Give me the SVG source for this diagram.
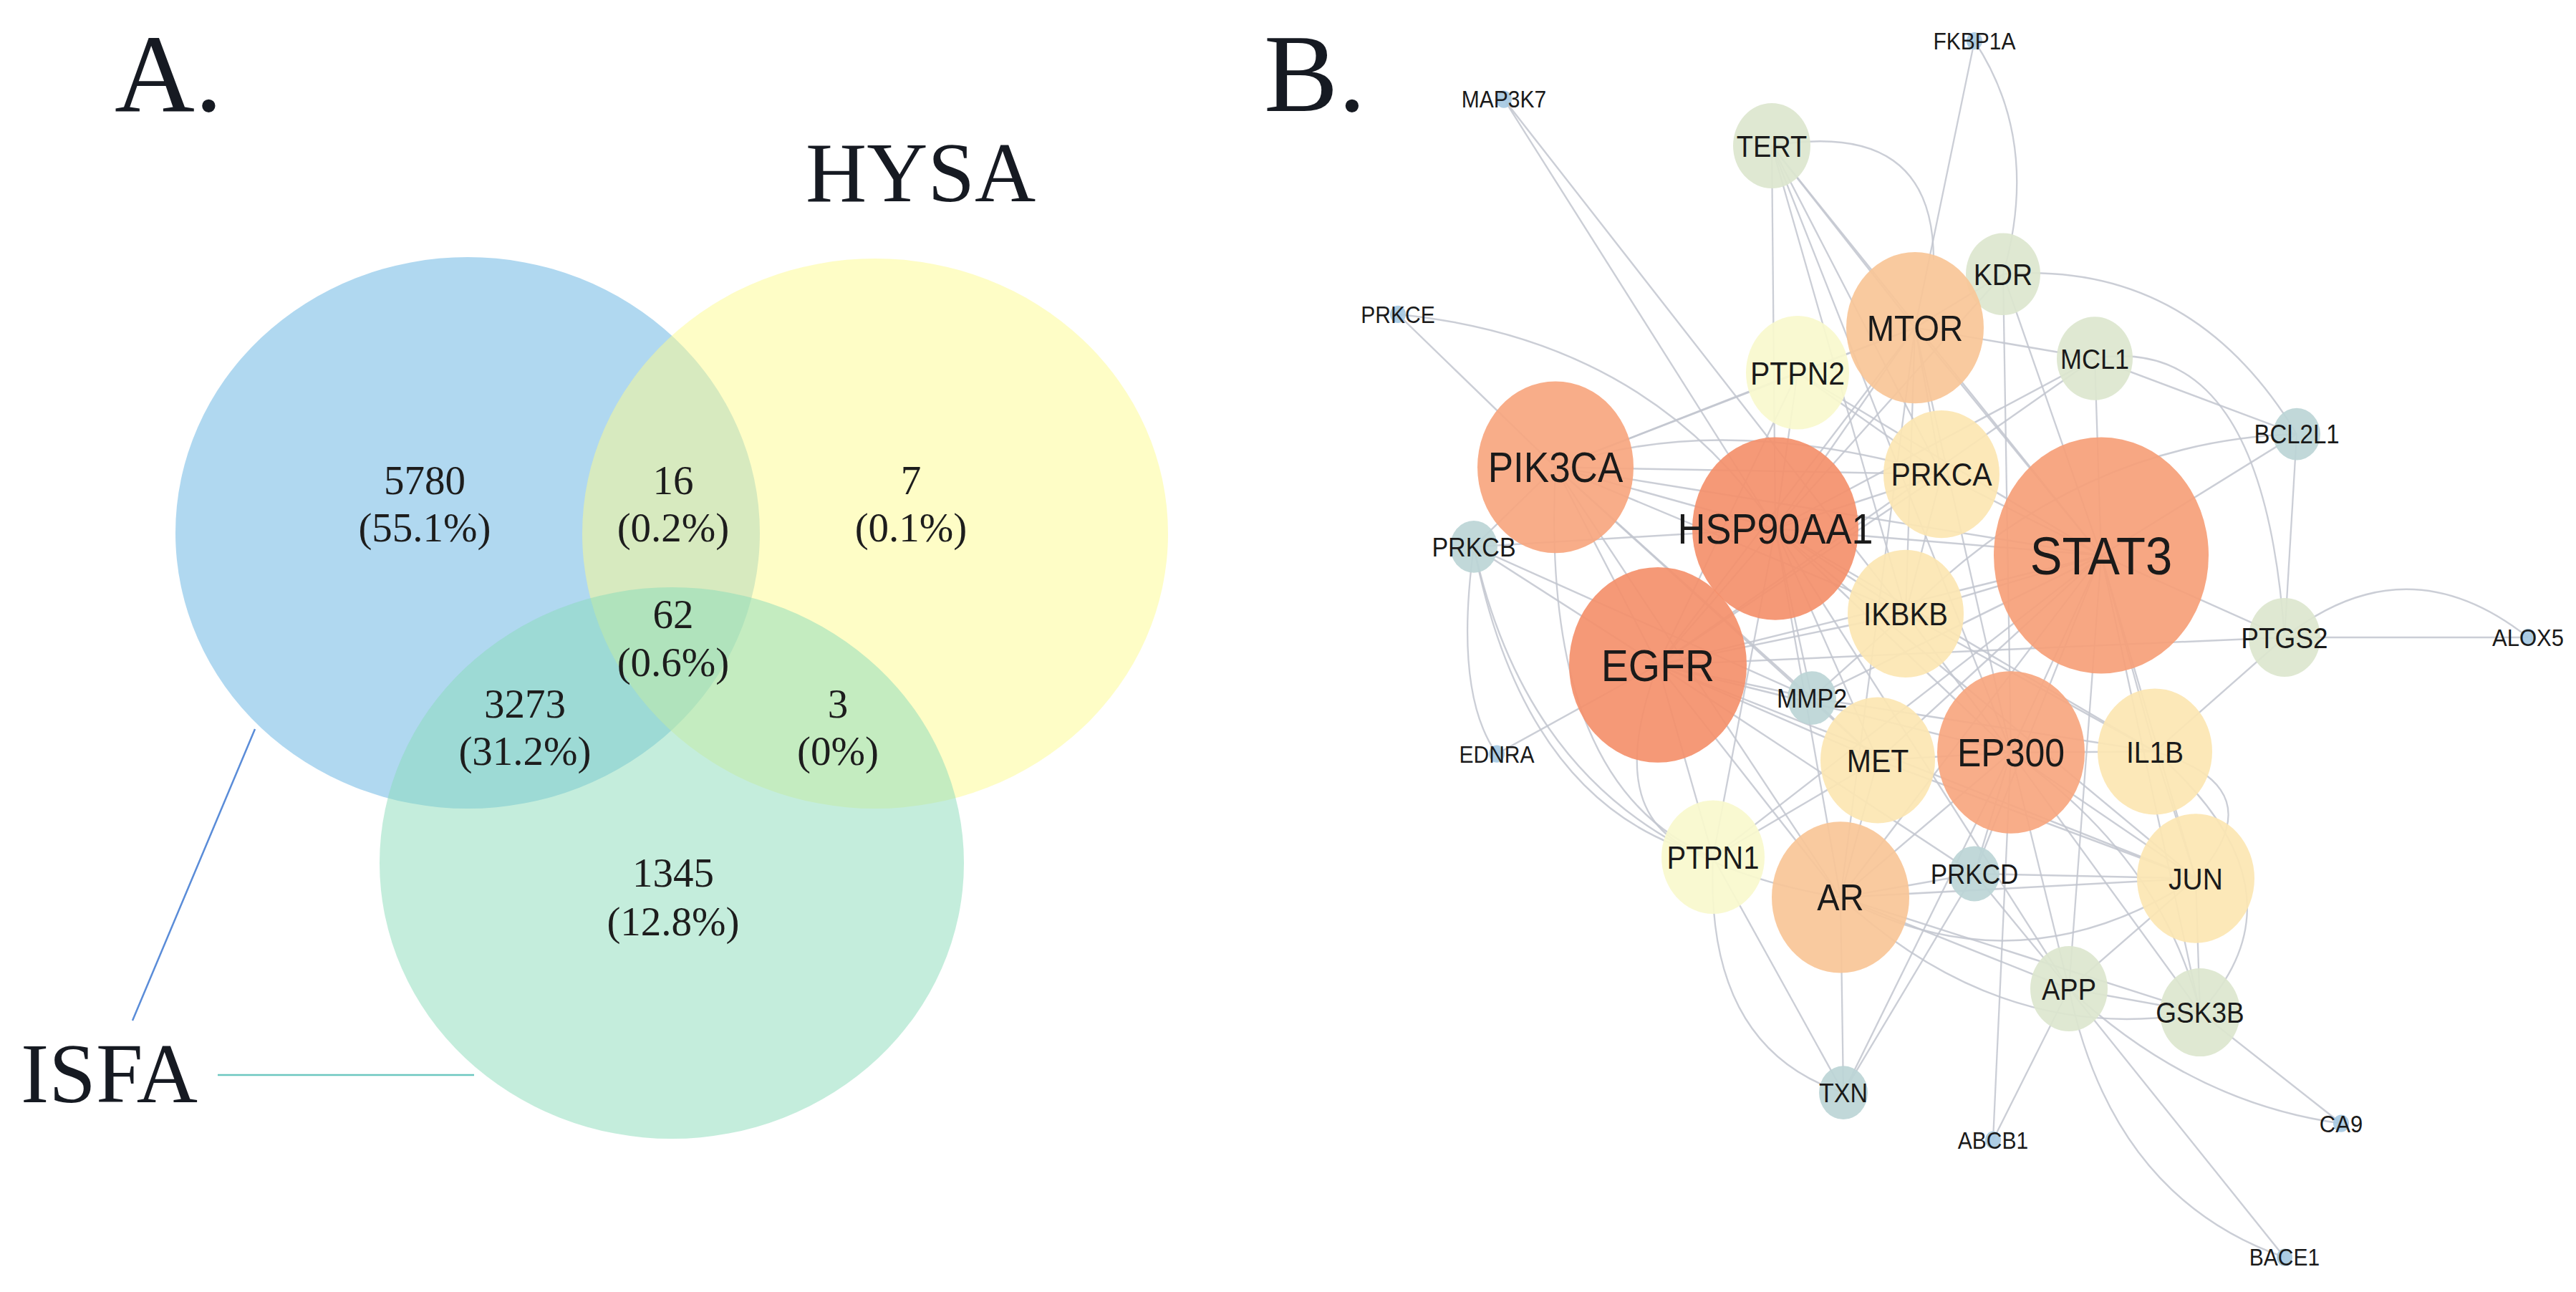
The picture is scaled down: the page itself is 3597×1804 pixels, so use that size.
<svg xmlns="http://www.w3.org/2000/svg" width="3597" height="1804" viewBox="0 0 3597 1804">
<style>
.vs{font-family:"Liberation Serif","Times New Roman",serif;fill:#161a22}
.vn{font-family:"Liberation Serif","Times New Roman",serif;font-size:57px;text-anchor:middle;fill:#1d1d1d}
.e{fill:none;stroke:#c2c6cf;stroke-width:2.3;stroke-opacity:0.85}
.n circle{fill-opacity:0.92}
.n text{font-family:"Liberation Sans",Arial,sans-serif;text-anchor:middle;fill:#1a1a1a}
.c0{fill:#F6A078}.c1{fill:#F4906B}.c2{fill:#F7A67F}.c3{fill:#F9C597}.c4{fill:#FCE6B2}.c5{fill:#F8F8CD}.c6{fill:#DCE6CE}.c7{fill:#BCD5D6}.c8{fill:#A6C9E2}
</style>
<rect width="3597" height="1804" fill="#ffffff"/>
<g id="panelA">
<text class="vs" x="160" y="155" font-size="155">A.</text>
<text class="vs" x="1125" y="281" font-size="118">HYSA</text>
<text class="vs" x="29" y="1539" font-size="118">ISFA</text>
<g id="venn-sets">
<ellipse id="set-blue" cx="653" cy="744" rx="408" ry="385" fill="#61B1E1" fill-opacity="0.5"/>
<ellipse id="set-HYSA" cx="1222" cy="745" rx="409" ry="384" fill="#FDFB8D" fill-opacity="0.5"/>
<ellipse id="set-ISFA" cx="938" cy="1205" rx="408" ry="385" fill="#89DBB9" fill-opacity="0.5"/>
</g>
<g id="venn-leaders">
<line x1="356" y1="1018" x2="185" y2="1425" stroke="#5A8CD8" stroke-width="2.5"/>
<line x1="304" y1="1501" x2="662" y2="1501" stroke="#6CC7C0" stroke-width="2.5"/>
</g>
<g id="venn-counts">
<text class="vn" x="593" y="690">5780</text><text class="vn" x="593" y="756">(55.1%)</text>
<text class="vn" x="940" y="690">16</text><text class="vn" x="940" y="756">(0.2%)</text>
<text class="vn" x="1272" y="690">7</text><text class="vn" x="1272" y="756">(0.1%)</text>
<text class="vn" x="940" y="877">62</text><text class="vn" x="940" y="944">(0.6%)</text>
<text class="vn" x="733" y="1002">3273</text><text class="vn" x="733" y="1068">(31.2%)</text>
<text class="vn" x="1170" y="1002">3</text><text class="vn" x="1170" y="1068">(0%)</text>
<text class="vn" x="940" y="1238">1345</text><text class="vn" x="940" y="1306">(12.8%)</text>
</g>
</g>
<text class="vs" x="1765" y="155" font-size="155">B.</text>
<g id="network" transform="matrix(1 0 0 1.1 0 0)">
<g id="edges">
<path class="e" d="M2757 52 L2674 416"/>
<path class="e" d="M2100 126 L2479 671"/>
<path class="e" d="M2100 126 L2661 779"/>
<path class="e" d="M1952 399 L2172 593"/>
<path class="e" d="M2474 185 L2479 671"/>
<path class="e" d="M2474 185 L2674 416"/>
<path class="e" d="M2474 185 L2711 602"/>
<path class="e" d="M2474 185 L2934 705"/>
<path class="e" d="M2474 185 L2661 779"/>
<path class="e" d="M2474 185 L2808 955"/>
<path class="e" d="M2797 348 L2674 416"/>
<path class="e" d="M2797 348 L2808 955"/>
<path class="e" d="M2797 348 L2479 671"/>
<path class="e" d="M2797 348 L2934 705"/>
<path class="e" d="M2925 455 L2934 705"/>
<path class="e" d="M2925 455 L2674 416"/>
<path class="e" d="M2925 455 L3207 551"/>
<path class="e" d="M2925 455 L2479 671"/>
<path class="e" d="M2925 455 L2315 844"/>
<path class="e" d="M3207 551 L2934 705"/>
<path class="e" d="M3207 551 L3190 809"/>
<path class="e" d="M3190 809 L3530 809"/>
<path class="e" d="M3190 809 L2934 705"/>
<path class="e" d="M3190 809 L3009 954"/>
<path class="e" d="M3190 809 L2315 844"/>
<path class="e" d="M2058 694 L2172 593"/>
<path class="e" d="M2058 694 L2315 844"/>
<path class="e" d="M2058 694 L2479 671"/>
<path class="e" d="M2058 694 L2530 886"/>
<path class="e" d="M2090 957 L2315 844"/>
<path class="e" d="M2392 1088 L2315 844"/>
<path class="e" d="M2392 1088 L2622 965"/>
<path class="e" d="M2392 1088 L2479 671"/>
<path class="e" d="M2392 1088 L2934 705"/>
<path class="e" d="M2392 1088 L2574 1387"/>
<path class="e" d="M2570 1139 L2574 1387"/>
<path class="e" d="M2574 1387 L2808 955"/>
<path class="e" d="M2783 1447 L2808 955"/>
<path class="e" d="M2783 1447 L2889 1255"/>
<path class="e" d="M3269 1426 L3072 1285"/>
<path class="e" d="M3190 1596 L2889 1255"/>
<path class="e" d="M2889 1255 L3072 1285"/>
<path class="e" d="M2889 1255 L3066 1115"/>
<path class="e" d="M2889 1255 L2808 955"/>
<path class="e" d="M2889 1255 L2570 1139"/>
<path class="e" d="M2889 1255 L2934 705"/>
<path class="e" d="M2889 1255 L2757 1109"/>
<path class="e" d="M2889 1255 L2479 671"/>
<path class="e" d="M3072 1285 L3066 1115"/>
<path class="e" d="M3072 1285 L2808 955"/>
<path class="e" d="M3072 1285 L2570 1139"/>
<path class="e" d="M3072 1285 L2934 705"/>
<path class="e" d="M2934 705 L2479 671"/>
<path class="e" d="M2934 705 L2315 844"/>
<path class="e" d="M2934 705 L2808 955"/>
<path class="e" d="M2934 705 L3066 1115"/>
<path class="e" d="M2934 705 L3009 954"/>
<path class="e" d="M2934 705 L2674 416"/>
<path class="e" d="M2934 705 L2711 602"/>
<path class="e" d="M2934 705 L2661 779"/>
<path class="e" d="M2934 705 L2622 965"/>
<path class="e" d="M2934 705 L2570 1139"/>
<path class="e" d="M2934 705 L2172 593"/>
<path class="e" d="M2934 705 L2510 473"/>
<path class="e" d="M2934 705 L2530 886"/>
<path class="e" d="M2934 705 L2757 1109"/>
<path class="e" d="M2479 671 L2315 844"/>
<path class="e" d="M2479 671 L2172 593"/>
<path class="e" d="M2479 671 L2674 416"/>
<path class="e" d="M2479 671 L2711 602"/>
<path class="e" d="M2479 671 L2661 779"/>
<path class="e" d="M2479 671 L2622 965"/>
<path class="e" d="M2479 671 L2570 1139"/>
<path class="e" d="M2479 671 L2808 955"/>
<path class="e" d="M2479 671 L2510 473"/>
<path class="e" d="M2479 671 L2530 886"/>
<path class="e" d="M2479 671 L3066 1115"/>
<path class="e" d="M2479 671 L3009 954"/>
<path class="e" d="M2315 844 L2172 593"/>
<path class="e" d="M2315 844 L2622 965"/>
<path class="e" d="M2315 844 L2510 473"/>
<path class="e" d="M2315 844 L2711 602"/>
<path class="e" d="M2315 844 L2530 886"/>
<path class="e" d="M2315 844 L2570 1139"/>
<path class="e" d="M2315 844 L2808 955"/>
<path class="e" d="M2315 844 L2661 779"/>
<path class="e" d="M2315 844 L2757 1109"/>
<path class="e" d="M2315 844 L3066 1115"/>
<path class="e" d="M2315 844 L2674 416"/>
<path class="e" d="M2172 593 L2674 416"/>
<path class="e" d="M2172 593 L2510 473"/>
<path class="e" d="M2172 593 L2661 779"/>
<path class="e" d="M2172 593 L2530 886"/>
<path class="e" d="M2172 593 L2622 965"/>
<path class="e" d="M2172 593 L2570 1139"/>
<path class="e" d="M2172 593 L2711 602"/>
<path class="e" d="M2808 955 L3066 1115"/>
<path class="e" d="M2808 955 L2570 1139"/>
<path class="e" d="M2808 955 L3009 954"/>
<path class="e" d="M2808 955 L2622 965"/>
<path class="e" d="M2808 955 L2661 779"/>
<path class="e" d="M2808 955 L2757 1109"/>
<path class="e" d="M2808 955 L2674 416"/>
<path class="e" d="M2674 416 L2711 602"/>
<path class="e" d="M2674 416 L2661 779"/>
<path class="e" d="M2674 416 L2510 473"/>
<path class="e" d="M2674 416 L2570 1139"/>
<path class="e" d="M2570 1139 L2757 1109"/>
<path class="e" d="M2570 1139 L3066 1115"/>
<path class="e" d="M2570 1139 L2622 965"/>
<path class="e" d="M3066 1115 L2757 1109"/>
<path class="e" d="M3066 1115 L3009 954"/>
<path class="e" d="M3066 1115 L2622 965"/>
<path class="e" d="M3009 954 L2661 779"/>
<path class="e" d="M3009 954 L2530 886"/>
<path class="e" d="M2622 965 L2530 886"/>
<path class="e" d="M2711 602 L2661 779"/>
<path class="e" d="M2510 473 L2711 602"/>
<path class="e" d="M2530 886 L2661 779"/>
<path class="e" d="M2574 1387 L2757 1109"/>
<path class="e" d="M2757 52 Q2850 180 2797 348"/>
<path class="e" d="M1952 399 Q2300 430 2479 671"/>
<path class="e" d="M2474 185 Q2700 150 2700 330"/>
<path class="e" d="M2797 348 Q3060 330 3207 551"/>
<path class="e" d="M2925 455 Q3160 420 3190 809"/>
<path class="e" d="M3190 809 Q3360 687 3530 809"/>
<path class="e" d="M2058 694 Q2030 880 2090 957"/>
<path class="e" d="M2058 694 Q2130 1030 2392 1088"/>
<path class="e" d="M2172 593 Q2150 1000 2392 1088"/>
<path class="e" d="M2392 1088 Q2380 1330 2574 1387"/>
<path class="e" d="M2889 1255 Q2950 1520 3190 1596"/>
<path class="e" d="M2889 1255 Q3060 1400 3269 1426"/>
<path class="e" d="M3072 1285 Q3230 1130 3009 954"/>
<path class="e" d="M3009 954 Q3180 1000 3066 1115"/>
<path class="e" d="M2570 1139 Q2820 1260 3066 1115"/>
<path class="e" d="M2570 1139 Q2800 1330 3072 1285"/>
<path class="e" d="M2808 955 Q3020 1090 3072 1285"/>
<path class="e" d="M2058 694 Q2150 1080 2570 1139"/>
<path class="e" d="M2315 844 Q2230 1050 2392 1088"/>
<path class="e" d="M2172 593 Q2400 520 2711 602"/>
<path class="e" d="M2661 779 Q2900 560 3207 551"/>
</g>
<g id="nodes" class="n">
<g id="node-FKBP1A"><circle class="c8" cx="2757" cy="52" r="11"/><text x="2757" y="52" dy="0.36em" font-size="30">FKBP1A</text></g>
<g id="node-MAP3K7"><circle class="c8" cx="2100" cy="126" r="11"/><text x="2100" y="126" dy="0.36em" font-size="30">MAP3K7</text></g>
<g id="node-PRKCE"><circle class="c8" cx="1952" cy="399" r="11"/><text x="1952" y="399" dy="0.36em" font-size="30">PRKCE</text></g>
<g id="node-ALOX5"><circle class="c8" cx="3530" cy="809" r="11"/><text x="3530" y="809" dy="0.36em" font-size="31">ALOX5</text></g>
<g id="node-EDNRA"><circle class="c8" cx="2090" cy="957" r="11"/><text x="2090" y="957" dy="0.36em" font-size="30">EDNRA</text></g>
<g id="node-ABCB1"><circle class="c8" cx="2783" cy="1447" r="11"/><text x="2783" y="1447" dy="0.36em" font-size="30">ABCB1</text></g>
<g id="node-CA9"><circle class="c8" cx="3269" cy="1426" r="11"/><text x="3269" y="1426" dy="0.36em" font-size="31">CA9</text></g>
<g id="node-BACE1"><circle class="c8" cx="3190" cy="1596" r="11"/><text x="3190" y="1596" dy="0.36em" font-size="30">BACE1</text></g>
<g id="node-TERT"><circle class="c6" cx="2474" cy="185" r="54"/><text x="2474" y="185" dy="0.36em" font-size="38">TERT</text></g>
<g id="node-KDR"><circle class="c6" cx="2797" cy="348" r="52"/><text x="2797" y="348" dy="0.36em" font-size="39">KDR</text></g>
<g id="node-MCL1"><circle class="c6" cx="2925" cy="455" r="53"/><text x="2925" y="455" dy="0.36em" font-size="36">MCL1</text></g>
<g id="node-BCL2L1"><circle class="c7" cx="3207" cy="551" r="33"/><text x="3207" y="551" dy="0.36em" font-size="33">BCL2L1</text></g>
<g id="node-PRKCB"><circle class="c7" cx="2058" cy="694" r="33"/><text x="2058" y="694" dy="0.36em" font-size="34">PRKCB</text></g>
<g id="node-PTGS2"><circle class="c6" cx="3190" cy="809" r="50"/><text x="3190" y="809" dy="0.36em" font-size="37">PTGS2</text></g>
<g id="node-PTPN2"><circle class="c5" cx="2510" cy="473" r="72"/><text x="2510" y="473" dy="0.36em" font-size="41">PTPN2</text></g>
<g id="node-MTOR"><circle class="c3" cx="2674" cy="416" r="96"/><text x="2674" y="416" dy="0.36em" font-size="46">MTOR</text></g>
<g id="node-PIK3CA"><circle class="c2" cx="2172" cy="593" r="109"/><text x="2172" y="593" dy="0.36em" font-size="53">PIK3CA</text></g>
<g id="node-PRKCA"><circle class="c4" cx="2711" cy="602" r="81"/><text x="2711" y="602" dy="0.36em" font-size="41">PRKCA</text></g>
<g id="node-IKBKB"><circle class="c4" cx="2661" cy="779" r="81"/><text x="2661" y="779" dy="0.36em" font-size="40">IKBKB</text></g>
<g id="node-HSP90AA1"><circle class="c1" cx="2479" cy="671" r="116"/><text x="2479" y="671" dy="0.36em" font-size="54">HSP90AA1</text></g>
<g id="node-STAT3"><circle class="c0" cx="2934" cy="705" r="150"/><text x="2934" y="705" dy="0.36em" font-size="67">STAT3</text></g>
<g id="node-MMP2"><circle class="c7" cx="2530" cy="886" r="34"/><text x="2530" y="886" dy="0.36em" font-size="34">MMP2</text></g>
<g id="node-EGFR"><circle class="c1" cx="2315" cy="844" r="124"/><text x="2315" y="844" dy="0.36em" font-size="57">EGFR</text></g>
<g id="node-MET"><circle class="c4" cx="2622" cy="965" r="80"/><text x="2622" y="965" dy="0.36em" font-size="41">MET</text></g>
<g id="node-IL1B"><circle class="c4" cx="3009" cy="954" r="80"/><text x="3009" y="954" dy="0.36em" font-size="39">IL1B</text></g>
<g id="node-EP300"><circle class="c2" cx="2808" cy="955" r="103"/><text x="2808" y="955" dy="0.36em" font-size="50">EP300</text></g>
<g id="node-PTPN1"><circle class="c5" cx="2392" cy="1088" r="72"/><text x="2392" y="1088" dy="0.36em" font-size="40">PTPN1</text></g>
<g id="node-PRKCD"><circle class="c7" cx="2757" cy="1109" r="35"/><text x="2757" y="1109" dy="0.36em" font-size="35">PRKCD</text></g>
<g id="node-AR"><circle class="c3" cx="2570" cy="1139" r="96"/><text x="2570" y="1139" dy="0.36em" font-size="47">AR</text></g>
<g id="node-JUN"><circle class="c4" cx="3066" cy="1115" r="82"/><text x="3066" y="1115" dy="0.36em" font-size="39">JUN</text></g>
<g id="node-APP"><circle class="c6" cx="2889" cy="1255" r="54"/><text x="2889" y="1255" dy="0.36em" font-size="38">APP</text></g>
<g id="node-GSK3B"><circle class="c6" cx="3072" cy="1285" r="56"/><text x="3072" y="1285" dy="0.36em" font-size="37">GSK3B</text></g>
<g id="node-TXN"><circle class="c7" cx="2574" cy="1387" r="34"/><text x="2574" y="1387" dy="0.36em" font-size="34">TXN</text></g>
</g>
</g>
</svg>
